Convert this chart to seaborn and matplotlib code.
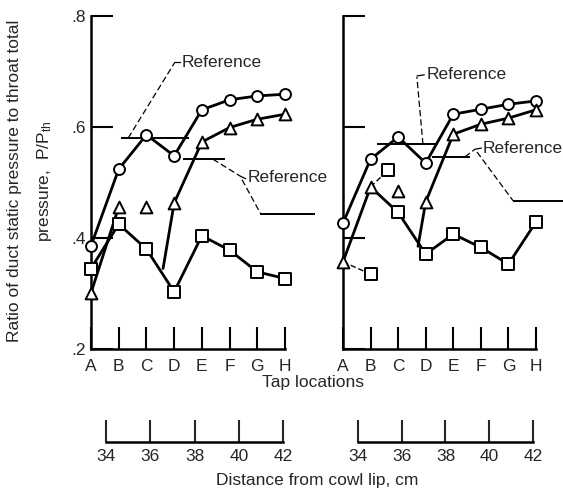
import matplotlib
matplotlib.use("Agg")
import matplotlib.pyplot as plt
import seaborn as sns

sns.set_style("ticks")
plt.rcParams['font.family'] = ['Liberation Sans', 'DejaVu Sans']
plt.rcParams['mathtext.fontset'] = 'custom'
plt.rcParams['mathtext.rm'] = 'Liberation Sans'
plt.rcParams['mathtext.it'] = 'Liberation Sans'

# ---------------- data ----------------
taps = ["A", "B", "C", "D", "E", "F", "G", "H"]
tap_pos = [0, 1, 2, 3, 4, 5, 6, 7]
dist_ticks = [34, 36, 38, 40, 42]
y_ticks = [0.2, 0.4, 0.6, 0.8]
y_tick_labels = [".2", ".4", ".6", ".8"]

# left panel
L_circle_y = [0.386, 0.524, 0.586, 0.548, 0.631, 0.649, 0.656, 0.659]
L_tri_y = [0.301, 0.456, 0.456, 0.463, 0.573, 0.599, 0.614, 0.623]
L_sq_y = [0.345, 0.425, 0.380, 0.303, 0.404, 0.378, 0.339, 0.327]
L_tri_line1_x = [0, 1]
L_tri_line1_y = [0.301, 0.456]
L_tri_line2_x = [2.6, 3, 4, 5, 6, 7]
L_tri_line2_y = [0.345, 0.463, 0.573, 0.599, 0.614, 0.623]
L_ref_levels = [0.580, 0.542, 0.443]

# right panel
R_circle_y = [0.427, 0.542, 0.582, 0.535, 0.623, 0.632, 0.641, 0.647]
R_tri_y = [0.357, 0.492, 0.485, 0.465, 0.587, 0.605, 0.616, 0.631]
R_sq_x = [1, 1.63, 2, 3, 4, 5, 6, 7]
R_sq_y = [0.335, 0.522, 0.446, 0.371, 0.407, 0.383, 0.353, 0.429]
R_main_line_x = [0, 1, 2, 3, 4, 5, 6, 7]
R_main_line_y = [0.357, 0.492, 0.446, 0.371, 0.407, 0.383, 0.353, 0.429]
R_tri_line_x = [2.72, 3, 4, 5, 6, 7]
R_tri_line_y = [0.385, 0.465, 0.587, 0.605, 0.616, 0.631]
R_dash1_x = [0, 1]
R_dash1_y = [0.357, 0.335]
R_dash2_x = [1, 1.63]
R_dash2_y = [0.492, 0.522]
R_ref_levels = [0.569, 0.546, 0.467]

# ---------------- figure ----------------
W, H = 563, 495
fig = plt.figure(figsize=(W / 100, H / 100), dpi=100)


def fx(px):
    return px / W


def fy(py):
    return 1 - py / H


axL = fig.add_axes([fx(91), fy(349), (285 - 91) / W, (349 - 16) / H])
axR = fig.add_axes([fx(343), fy(349), (536 - 343) / W, (349 - 16) / H])

LW = 2.0
MS = 62
FS = 12.5


def markers(ax, x, y, m, s=MS):
    sns.scatterplot(x=x, y=y, marker=m, s=s, facecolor="white", edgecolor="black",
                    linewidth=1.4, zorder=5, clip_on=False, ax=ax, legend=False)


def line(ax, x, y, ls="-", lw=LW):
    sns.lineplot(x=x, y=y, color="black", lw=lw, ls=ls, sort=False, estimator=None,
                 ax=ax, legend=False)
    for l in ax.lines[-1:]:
        l.set_clip_on(False)


def style_axis(ax, labels):
    ax.set_xlim(0, 7)
    ax.set_ylim(0.2, 0.8)
    ax.set_xticks(tap_pos)
    ax.set_xticklabels(taps, fontsize=FS)
    ax.set_yticks(y_ticks)
    if labels:
        ax.set_yticklabels(y_tick_labels, fontsize=FS)
    else:
        ax.set_yticklabels([])
    ax.tick_params(direction="in", length=16, width=1.5, color="black")
    ax.tick_params(axis="x", pad=7)
    ax.tick_params(axis="y", pad=4)
    for s in ["top", "right"]:
        ax.spines[s].set_visible(False)
    for s in ["left", "bottom"]:
        ax.spines[s].set_linewidth(1.8)
        ax.spines[s].set_color("black")
    ax.set_xlabel("")
    ax.set_ylabel("")
    ax.patch.set_alpha(0)


# left panel
line(axL, tap_pos, L_circle_y)
line(axL, tap_pos, L_sq_y)
line(axL, L_tri_line1_x, L_tri_line1_y)
line(axL, L_tri_line2_x, L_tri_line2_y)
markers(axL, tap_pos, L_circle_y, "o")
markers(axL, tap_pos, L_tri_y, "^", 72)
markers(axL, tap_pos, L_sq_y, "s", 70)

# right panel
line(axR, tap_pos, R_circle_y)
line(axR, R_main_line_x, R_main_line_y)
line(axR, R_tri_line_x, R_tri_line_y)
line(axR, R_dash1_x, R_dash1_y, ls=(0, (4, 2)), lw=1.0)
line(axR, R_dash2_x, R_dash2_y, ls=(0, (4, 2)), lw=1.0)
markers(axR, tap_pos, R_circle_y, "o")
markers(axR, tap_pos, R_tri_y, "^", 72)
markers(axR, R_sq_x, R_sq_y, "s", 70)

style_axis(axL, True)
style_axis(axR, False)

# reference lines and leaders
RLW = 1.4
DASH = (0, (5, 2.5))
axL.hlines(L_ref_levels[0], 1.08, 3.54, color="black", lw=RLW, clip_on=False)
axL.hlines(L_ref_levels[1], 3.32, 4.84, color="black", lw=RLW, clip_on=False)
axL.hlines(L_ref_levels[2], 6.10, 8.08, color="black", lw=RLW, clip_on=False)
axL.plot([1.34, 3.03], [L_ref_levels[0], 0.717], color="black",
         lw=0.9, ls=DASH, clip_on=False)
axL.plot([3.03, 3.22], [0.717, 0.717], color="black", lw=0.9, clip_on=False)
axL.text(3.28, 0.717, "Reference", fontsize=FS, va="center", ha="left")
axL.plot([4.40, 5.40], [L_ref_levels[1], 0.511], color="black",
         lw=0.9, ls=DASH, clip_on=False)
axL.plot([5.40, 5.58], [0.511, 0.507], color="black", lw=0.9, clip_on=False)
axL.plot([5.45, 6.13], [0.505, L_ref_levels[2]], color="black",
         lw=0.9, ls=DASH, clip_on=False)
axL.text(5.65, 0.509, "Reference", fontsize=FS, va="center", ha="left")

axR.hlines(R_ref_levels[0], 1.23, 3.41, color="black", lw=RLW, clip_on=False)
axR.hlines(R_ref_levels[1], 3.23, 4.61, color="black", lw=RLW, clip_on=False)
axR.hlines(R_ref_levels[2], 6.17, 7.98, color="black", lw=RLW, clip_on=False)
axR.plot([2.90, 2.68], [R_ref_levels[0], 0.690], color="black",
         lw=0.9, ls=DASH, clip_on=False)
axR.plot([2.68, 2.95], [0.692, 0.694], color="black", lw=0.9, clip_on=False)
axR.text(3.02, 0.694, "Reference", fontsize=FS, va="center", ha="left")
axR.plot([4.42, 4.79], [R_ref_levels[1], 0.560], color="black",
         lw=0.9, ls=DASH, clip_on=False)
axR.plot([4.79, 5.02], [0.560, 0.562], color="black", lw=0.9, clip_on=False)
axR.plot([4.86, 6.17], [0.555, R_ref_levels[2]], color="black",
         lw=0.9, ls=DASH, clip_on=False)
axR.text(5.08, 0.562, "Reference", fontsize=FS, va="center", ha="left")

# distance axes
for left_px, right_px in [(106, 283), (358, 533)]:
    axd = fig.add_axes([fx(left_px), fy(442), (right_px - left_px) / W, 22 / H])
    axd.set_xlim(34, 42)
    axd.set_ylim(0, 1)
    axd.set_xticks(dist_ticks)
    axd.set_xticklabels([str(t) for t in dist_ticks], fontsize=FS)
    axd.set_yticks([])
    axd.tick_params(axis="x", direction="in", length=16, width=1.5, pad=5)
    for s in ["top", "right", "left"]:
        axd.spines[s].set_visible(False)
    axd.spines["bottom"].set_linewidth(1.8)
    axd.spines["bottom"].set_color("black")
    axd.patch.set_alpha(0)

# labels
fig.text(fx(313), fy(383), "Tap locations", fontsize=FS, ha="center", va="center")
fig.text(fx(317), fy(480), "Distance from cowl lip, cm", fontsize=FS, ha="center", va="center")
fig.text(fx(15), fy(181), "Ratio of duct static pressure to throat total",
         fontsize=FS, rotation=90, ha="center", va="center")
fig.text(fx(44), fy(181), r"pressure,  P/P$_{\mathrm{th}}$",
         fontsize=FS, rotation=90, ha="center", va="center")

fig.savefig("out.png", dpi=100)
